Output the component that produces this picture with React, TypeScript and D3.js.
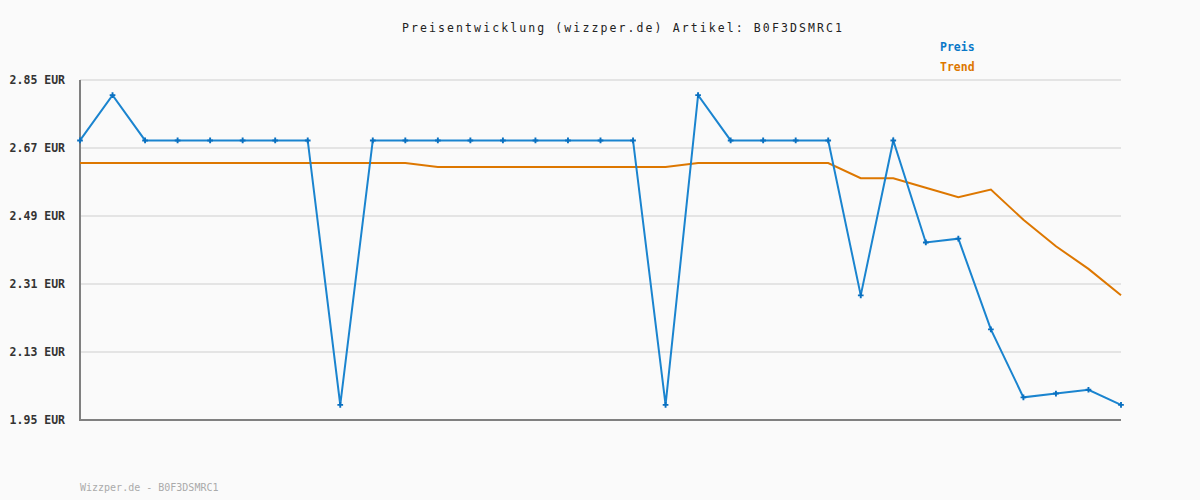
import React, { useEffect, useRef } from "react";
import * as d3 from "d3";

const preis: number[] = [
  2.69, 2.81, 2.69, 2.69, 2.69, 2.69, 2.69, 2.69, 1.99, 2.69, 2.69, 2.69, 2.69,
  2.69, 2.69, 2.69, 2.69, 2.69, 1.99, 2.81, 2.69, 2.69, 2.69, 2.69, 2.28, 2.69,
  2.42, 2.43, 2.19, 2.01, 2.02, 2.03, 1.99,
];
const trend: number[] = [
  2.63, 2.63, 2.63, 2.63, 2.63, 2.63, 2.63, 2.63, 2.63, 2.63, 2.63, 2.62, 2.62,
  2.62, 2.62, 2.62, 2.62, 2.62, 2.62, 2.63, 2.63, 2.63, 2.63, 2.63, 2.59, 2.59,
  2.565, 2.54, 2.56, 2.48, 2.41, 2.35, 2.28,
];
const yTicks: number[] = [1.95, 2.13, 2.31, 2.49, 2.67, 2.85];
const title = "Preisentwicklung (wizzper.de) Artikel: B0F3DSMRC1";
const footer = "Wizzper.de - B0F3DSMRC1";
const legendItems = [
  { label: "Preis", color: "#0a78c8" },
  { label: "Trend", color: "#dd7700" },
];

const W = 1200;
const H = 500;
const M = { left: 80, right: 1121, top: 80, bottom: 420 };
const FONT = "'DejaVu Sans Mono', monospace";

export default function App() {
  const ref = useRef<SVGSVGElement>(null);
  useEffect(() => {
    const svg = d3.select(ref.current);
    svg.selectAll("*").remove();
    const x = d3
      .scaleLinear()
      .domain([0, preis.length - 1])
      .range([M.left, M.right]);
    const y = d3.scaleLinear().domain([1.95, 2.85]).range([M.bottom, M.top]);

    svg.append("rect").attr("width", W).attr("height", H).attr("fill", "#fafafa");

    // grid
    svg
      .append("g")
      .selectAll("line")
      .data(yTicks)
      .join("line")
      .attr("x1", M.left)
      .attr("x2", M.right)
      .attr("y1", (d) => y(d))
      .attr("y2", (d) => y(d))
      .attr("stroke", "#e4e4e4")
      .attr("stroke-width", 2);

    // y labels
    svg
      .append("g")
      .selectAll("text")
      .data(yTicks)
      .join("text")
      .attr("x", 65)
      .attr("y", (d) => y(d))
      .attr("dy", "0.36em")
      .attr("text-anchor", "end")
      .attr("font-family", FONT)
      .attr("font-weight", "bold")
      .attr("font-size", 11.5)
      .attr("fill", "#333")
      .text((d) => d.toFixed(2) + " EUR");

    // axes
    svg
      .append("line")
      .attr("x1", M.left)
      .attr("x2", M.left)
      .attr("y1", M.top)
      .attr("y2", M.bottom + 1)
      .attr("stroke", "#808080")
      .attr("stroke-width", 2);
    svg
      .append("line")
      .attr("x1", M.left)
      .attr("x2", M.right)
      .attr("y1", M.bottom)
      .attr("y2", M.bottom)
      .attr("stroke", "#808080")
      .attr("stroke-width", 2);

    const line = d3
      .line<number>()
      .x((_, i) => x(i))
      .y((d) => y(d));

    svg
      .append("path")
      .datum(trend)
      .attr("d", line)
      .attr("fill", "none")
      .attr("stroke", "#dd7700")
      .attr("stroke-width", 2);

    svg
      .append("path")
      .datum(preis)
      .attr("d", line)
      .attr("fill", "none")
      .attr("stroke", "#1a84cf")
      .attr("stroke-width", 2);

    const cross = d3.symbol().type(d3.symbolCross).size(18);
    svg
      .append("g")
      .selectAll("path")
      .data(preis)
      .join("path")
      .attr("transform", (d, i) => `translate(${x(i)},${y(d)})`)
      .attr("d", cross)
      .attr("fill", "#0a70c0");

    // title
    svg
      .append("text")
      .attr("x", 623)
      .attr("y", 32)
      .attr("text-anchor", "middle")
      .attr("font-family", FONT)
      .attr("font-size", 11.5)
      .attr("letter-spacing", "2.1px")
      .attr("fill", "#222")
      .text(title);

    // legend
    svg
      .append("g")
      .selectAll("text")
      .data(legendItems)
      .join("text")
      .attr("x", 940)
      .attr("y", (_, i) => 51 + i * 20)
      .attr("font-family", FONT)
      .attr("font-weight", "bold")
      .attr("font-size", 11.5)
      .attr("fill", (d) => d.color)
      .text((d) => d.label);

    // footer
    svg
      .append("text")
      .attr("x", 80)
      .attr("y", 491)
      .attr("font-family", FONT)
      .attr("font-size", 10)
      .attr("fill", "#aaa")
      .text(footer);
  }, []);
  return (
    <div style={{ position: "absolute", left: 0, top: 0 }}>
      <svg ref={ref} width={W} height={H} style={{ display: "block" }} />
    </div>
  );
}
